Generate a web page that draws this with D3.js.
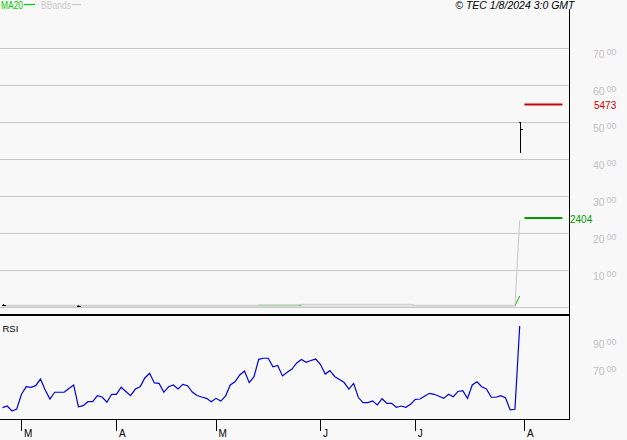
<!DOCTYPE html>
<html><head><meta charset="utf-8">
<script src="https://cdn.jsdelivr.net/npm/d3@7"></script>
<style>html,body{margin:0;padding:0;background:#f8f8f8;overflow:hidden}svg{display:block;font-family:"Liberation Sans",Arial,sans-serif}</style>
</head><body><svg id="c" width="627" height="440"></svg>
<script>
// ---- data ----
const rsiValues = [38.4,39.6,35.9,37.4,48.3,53.9,53.5,54.7,59.6,51.5,
  44.8,49.8,49.8,49.8,52.6,55.2,39.1,39.9,42.8,42.8,
  47.3,46.3,42.4,48.3,48.3,53.5,50.4,47.3,52.2,53.9,
  60.4,63.9,56.7,56.4,49.8,53.9,55.2,52.2,55.7,54.7,
  50.0,47.4,46.3,45.3,42.8,45.3,43.3,47.0,55.2,57.6,
  62.6,65.6,56.9,61.3,74.2,75.0,75.0,68.7,69.6,61.9,
  64.6,67.0,71.5,74.1,72.0,73.3,74.4,70.5,63.3,65.8,
  61.5,59.3,57.0,52.2,56.4,45.9,42.1,42.1,43.3,40.4,
  45.0,41.6,41.6,38.7,39.6,38.7,40.9,44.6,44.8,47.0,
  49.0,48.3,46.8,45.3,48.3,46.5,50.4,51.0,45.3,55.2,
  57.6,53.9,52.2,46.1,46.1,47.3,45.8,36.7,37.2,98.9];
const xTickIndex = [4, 24, 45, 67, 87, 110];
const xTickLabels = ["M", "A", "M", "J", "J", "A"];
const priceTicks = [1000, 2000, 3000, 4000, 5000, 6000, 7000];
const priceGrid = [0, 1000, 2000, 3000, 4000, 5000, 6000, 7000];
const rsiTicks = [70, 90];
// OHLC bars: [index, open, high, low, close]
const ohlcBars = [[0, 50, 55, 45, 50], [16, 30, 35, 25, 30], [109, 4990, 4995, 4170, 4803]];
// indicator polylines as [index, value]
const bbUpper = [[0, 46], [62, 46], [63, 73], [86, 73], [87, 46], [108, 46], [109, 2350]];
const bbLower = [[0, 25], [108, 25]];
const ma20 = [[54, 46], [63, 46], [64, null], [108, 27], [109, 297]];
const lastValues = [5473, 2404];
const lastColors = ["#cc0000", "#009900"];
const legendNames = ["MA20", "BBands"];
const legendColors = ["#00cc00", "#c8c8c8"];
const copyright = "© TEC 1/8/2024 3:0 GMT";

// ---- drawing ----
const svg = d3.select("#c");
const x = d3.scaleLinear().domain([0, 110]).range([2.5, 524.45]);
const yMain = d3.scaleLinear().domain([0, 7000]).range([307, 48]);
const yRsi = d3.scaleLinear().domain([70, 90]).range([365, 338]);

const defs = svg.append("defs");
defs.append("clipPath").attr("id", "cm").append("rect").attr("x", 0).attr("y", 9).attr("width", 569).attr("height", 305);
defs.append("clipPath").attr("id", "cr").append("rect").attr("x", 0).attr("y", 316).attr("width", 569).attr("height", 103);

// grid
svg.append("g").selectAll("line").data(priceGrid).join("line")
  .attr("x1", 0).attr("x2", 569)
  .attr("y1", d => Math.round(yMain(d)) + 0.5).attr("y2", d => Math.round(yMain(d)) + 0.5)
  .attr("stroke", "#c8c8c8").attr("stroke-width", 1).attr("shape-rendering", "crispEdges");

// y axis labels main
const yAx = d3.axisRight(yMain).tickValues(priceTicks).tickSize(0);
const gy = svg.append("g").attr("transform", "translate(593,0)").call(yAx);
gy.select(".domain").remove();
gy.selectAll(".tick text").each(function (d) {
  const t = d3.select(this).text("").attr("x", 0).attr("dy", null).attr("y", 9.5)
    .attr("text-anchor", "start").attr("fill", "#c0c0c0").attr("font-size", 10.5).attr("font-family", "Liberation Sans, Arial");
  t.append("tspan").text(String(Math.floor(d / 100)));
  t.append("tspan").attr("dx", 2).attr("dy", -3.5).attr("font-size", 8.5).text(String(d % 100).padStart(2, "0"));
});

// RSI axis labels
const yAxR = d3.axisRight(yRsi).tickValues(rsiTicks).tickSize(0);
const gr = svg.append("g").attr("transform", "translate(593,0)").call(yAxR);
gr.select(".domain").remove();
gr.selectAll(".tick text").each(function (d) {
  const t = d3.select(this).text("").attr("x", 0).attr("dy", null).attr("y", 9.5)
    .attr("text-anchor", "start").attr("fill", "#c0c0c0").attr("font-size", 10.5).attr("font-family", "Liberation Sans, Arial");
  t.append("tspan").text(String(d));
  t.append("tspan").attr("dx", 2).attr("dy", -3.5).attr("font-size", 8.5).text("00");
});

// main plot
const gm = svg.append("g").attr("clip-path", "url(#cm)");
const pl = d3.line().defined(d => d[1] != null).x(d => x(d[0])).y(d => yMain(d[1]));
gm.append("path").attr("d", pl(ma20)).attr("fill", "none").attr("stroke", "#00cc00").attr("stroke-width", 1);
gm.append("path").attr("d", pl(bbLower)).attr("fill", "none").attr("stroke", "#c8c8c8").attr("stroke-width", 1);
gm.append("path").attr("d", pl(bbUpper)).attr("fill", "none").attr("stroke", "#c8c8c8").attr("stroke-width", 1);
const gb = gm.append("g").attr("stroke", "#000").attr("stroke-width", 1).attr("shape-rendering", "crispEdges");
ohlcBars.forEach(b => {
  const cx = Math.round(x(b[0])) + 0.5;
  gb.append("line").attr("x1", cx).attr("x2", cx).attr("y1", yMain(b[2]) - 0.5).attr("y2", yMain(b[3]) + 0.5);
  gb.append("line").attr("x1", cx - 2).attr("x2", cx).attr("y1", Math.round(yMain(b[1])) + 0.5).attr("y2", Math.round(yMain(b[1])) + 0.5);
  gb.append("line").attr("x1", cx).attr("x2", cx + 2).attr("y1", Math.round(yMain(b[4])) + 0.5).attr("y2", Math.round(yMain(b[4])) + 0.5);
});

// last-value markers
lastValues.forEach((v, i) => {
  const yy = yMain(v);
  svg.append("rect").attr("x", x(110)).attr("y", yy - 1).attr("width", x(118) - x(110)).attr("height", 2).attr("fill", lastColors[i]);
  svg.append("text").attr("x", i === 0 ? 594 : 570).attr("y", yy + 4.6).attr("font-size", 10).attr("fill", lastColors[i]).text(v);
});

// RSI
const gR = svg.append("g").attr("clip-path", "url(#cr)");
gR.append("path").attr("d", d3.line().x((d, i) => x(i)).y(d => yRsi(d))(rsiValues))
  .attr("fill", "none").attr("stroke", "#0000dd").attr("stroke-width", 1.2);
svg.append("text").attr("x", 2.5).attr("y", 331.5).attr("font-size", 9.5).attr("fill", "#000").text("RSI");

// borders
svg.append("rect").attr("x", 0).attr("y", 314).attr("width", 570).attr("height", 2).attr("fill", "#000");
svg.append("line").attr("x1", 0).attr("x2", 570).attr("y1", 419.5).attr("y2", 419.5).attr("stroke", "#000").attr("shape-rendering", "crispEdges");
svg.append("line").attr("x1", 569.5).attr("x2", 569.5).attr("y1", 9).attr("y2", 420).attr("stroke", "#000").attr("shape-rendering", "crispEdges");

// x axis
const xAx = d3.axisBottom(x).tickValues(xTickIndex).tickSize(12).tickFormat((d, i) => xTickLabels[i]);
const gx = svg.append("g").attr("transform", "translate(0,419)").call(xAx);
gx.select(".domain").remove();
gx.selectAll(".tick line").attr("stroke", "#000").attr("shape-rendering", "crispEdges");
gx.selectAll(".tick text").attr("text-anchor", "start").attr("x", 2).attr("y", 18).attr("dy", null)
  .attr("font-size", 10).attr("fill", "#000").attr("font-family", "Liberation Sans, Arial");

// legend
let lx = 1;
legendNames.forEach((n, i) => {
  const t = svg.append("text").attr("x", i === 0 ? 1 : 41).attr("y", 8.5).attr("font-size", 10)
    .attr("fill", legendColors[i]).text(n);
  const w = i === 0 ? 22 : 30;
  t.attr("textLength", w).attr("lengthAdjust", "spacingAndGlyphs");
  const sx = (i === 0 ? 1 : 41) + w + 1;
  svg.append("line").attr("x1", sx).attr("x2", sx + (i === 0 ? 11 : 9)).attr("y1", 4.5).attr("y2", 4.5)
    .attr("stroke", legendColors[i]).attr("stroke-width", 1.2);
});

svg.append("text").attr("x", 574.5).attr("y", 8.5).attr("text-anchor", "end").attr("font-size", 10.5)
  .attr("font-style", "italic").attr("fill", "#000").text(copyright);
</script></body></html>
